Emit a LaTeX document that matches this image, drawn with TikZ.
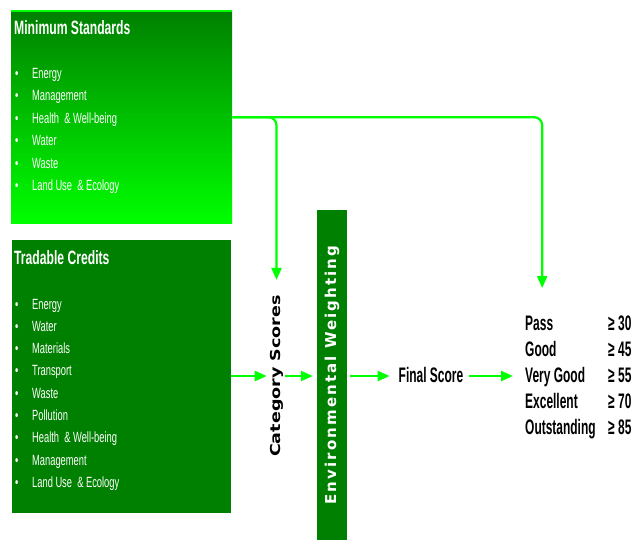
\documentclass[tikz,border=0pt]{standalone}
\usepackage{fontspec}
\setmainfont{Liberation Sans}[FakeStretch=0.63]
\newfontfamily\narrowb{Liberation Sans}[FakeStretch=0.57]
\newfontfamily\catfont{DejaVu Sans}[FakeStretch=1.28]
\newfontfamily\envfont{DejaVu Sans}[LetterSpace=14]
\usetikzlibrary{arrows.meta}
\definecolor{dkgreen}{RGB}{0,128,0}
\definecolor{ltgreen}{RGB}{0,255,0}
\begin{document}
\begin{tikzpicture}[x=1pt,y=-1pt,
  arr/.style={draw=ltgreen, line width=2.2pt, -{Triangle[length=12pt,width=10pt]}},
  boxtitle/.style={text=white, inner sep=0, anchor=base west, font=\bfseries\fontsize{19.3}{22}\selectfont},
  boxitem/.style={text=white, inner sep=0, anchor=base west, font=\fontsize{14.8}{17}\selectfont},
  rate/.style={inner sep=0, anchor=base west, font=\narrowb\bfseries\fontsize{21}{24}\selectfont}]
\path[fill=white] (0,0) rectangle (636,542);
\useasboundingbox (0,0) rectangle (636,542);

% Minimum standards box
\node[inner sep=0, minimum width=221pt, minimum height=212pt, top color=dkgreen, bottom color=ltgreen, anchor=north west] (ms) at (11,11) {};
\draw[ltgreen, line width=2pt] (ms.north west) -- (ms.north east);
\node[boxtitle] (mst) at (14,34.3) {Minimum Standards};
\foreach \t [count=\i from 0] in {Energy,Management,{Health\ \ \& Well-being},Water,Waste,{Land Use\ \ \& Ecology}}
  \node[boxitem] (msi\i) at (15,{78.3+22.5*\i}) {\makebox[17pt][l]{\textbullet}\t};

% Tradable credits box
\node[fill=dkgreen, inner sep=0, minimum width=219pt, minimum height=273pt, anchor=north west] (tc) at (12,240) {};
\node[boxtitle] (tct) at (14,264.3) {Tradable Credits};
\foreach \t [count=\i from 0] in {Energy,Water,Materials,Transport,Waste,Pollution,{Health\ \ \& Well-being},Management,{Land Use\ \ \& Ecology}}
  \node[boxitem] (tci\i) at (15,{309+22.3*\i}) {\makebox[17pt][l]{\textbullet}\t};

% Category scores
\node[inner sep=0] (cs) at (276.5,376) {\rotatebox{90}{\catfont\bfseries\fontsize{13.7}{16}\selectfont Category Scores}};

% Environmental weighting bar
\node[fill=dkgreen, minimum width=30pt, minimum height=330pt, inner sep=0, text=white] (ew) at (332,375)
  {\rotatebox{90}{\envfont\bfseries\fontsize{15}{18}\selectfont Environmental Weighting}};

% Final score
\node[inner sep=0, anchor=base, font=\narrowb\bfseries\fontsize{21}{24}\selectfont] (fs) at (431,382.7) {Final Score};

% Ratings
\foreach \r/\v [count=\i] in {Pass/30,Good/45,Very Good/55,Excellent/70,Outstanding/85}{
  \node[rate] (rp\i) at (525,{330.7+26*(\i-1)}) {\r};
  \node[rate] (rv\i) at (608,{330.7+26*(\i-1)}) {≥ \v};
}

% Connectors
\draw[arr, rounded corners=8pt, shorten >=15pt] (ms.east) -| (cs.north);
\draw[arr, rounded corners=8pt, shorten >=28pt] (ms.east) -| ([xshift=3pt]rp1.north);
\draw[arr, shorten >=3pt] (tc.east |- cs) -- (cs.west);
\draw[arr, shorten <=2pt, shorten >=4pt] (cs.east) -- (ew.west |- cs);
\draw[arr, shorten <=3pt, shorten >=9pt] (ew.east |- cs) -- (fs.west |- cs);
\draw[arr, shorten <=6pt, shorten >=12pt] (fs.east |- cs) -- (rp3.west |- cs);
\end{tikzpicture}
\end{document}
